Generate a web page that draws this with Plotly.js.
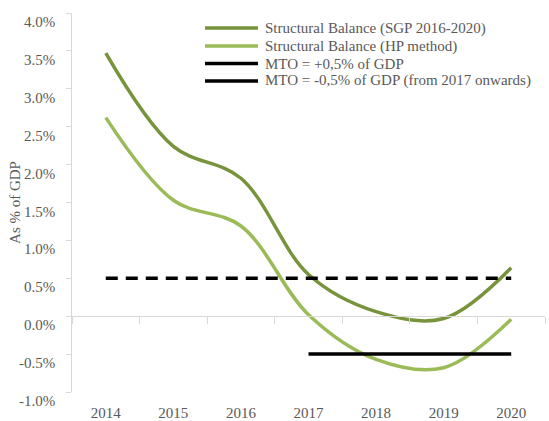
<!DOCTYPE html>
<html>
<head>
<meta charset="utf-8">
<script src="https://cdn.plot.ly/plotly-3.0.1.min.js"></script>
<style>html,body{margin:0;padding:0;background:#fff;}#chart{width:549px;height:421px;}</style>
</head>
<body>
<div id="chart"></div>
<script>
// ---- data ----
var years = [2014, 2015, 2016, 2017, 2018, 2019, 2020];
var sbSGP = [3.47, 2.24, 1.82, 0.55, 0.06, -0.03, 0.64];
var sbHP = [2.62, 1.53, 1.19, 0.02, -0.57, -0.68, -0.04];
var mtoHighYears = [2014, 2015, 2016, 2017, 2018, 2019, 2020];
var mtoHigh = [0.5, 0.5, 0.5, 0.5, 0.5, 0.5, 0.5];
var mtoLowYears = [2017, 2018, 2019, 2020];
var mtoLow = [-0.5, -0.5, -0.5, -0.5];
var seriesNames = ["Structural Balance (SGP 2016-2020)", "Structural Balance (HP method)", "MTO = +0,5% of GDP", "MTO = -0,5% of GDP (from 2017 onwards)"];
var yTickVals = [-1.0, -0.5, 0.0, 0.5, 1.0, 1.5, 2.0, 2.5, 3.0, 3.5, 4.0];
var yTickText = ["-1.0%", "-0.5%", "0.0%", "0.5%", "1.0%", "1.5%", "2.0%", "2.5%", "3.0%", "3.5%", "4.0%"];
var yTitle = "As % of GDP";

// ---- style ----
var darkGreen = "#77933C", lightGreen = "#9BBB59", black = "#000000";
var gray = "#595959", axisGray = "#d9d9d9";
var FONT = "Liberation Serif, Times New Roman, serif";
var colors = [darkGreen, lightGreen, black, black];

var W = 549, H = 421, L = 72, R = 4, T = 13, B = 29;
var pw = W - L - R, ph = H - T - B;
function px2x(px) { return (px - L) / pw; }
function px2y(py) { return (H - B - py) / ph; }

var traces = [
  {x: years, y: sbSGP, type: "scatter", mode: "lines", line: {color: darkGreen, width: 3.5, shape: "spline", smoothing: 1}, showlegend: false},
  {x: years, y: sbHP, type: "scatter", mode: "lines", line: {color: lightGreen, width: 3.5, shape: "spline", smoothing: 1}, showlegend: false},
  {x: mtoHighYears, y: mtoHigh, type: "scatter", mode: "lines", line: {color: black, width: 3.5, dash: "12px,8px"}, showlegend: false},
  {x: mtoLowYears, y: mtoLow, type: "scatter", mode: "lines", line: {color: black, width: 3.5}, showlegend: false},
  // invisible trace to activate the tick-mark axis at y = 0
  {x: [years[0]], y: [0], xaxis: "x2", type: "scatter", mode: "markers", marker: {opacity: 0}, showlegend: false, hoverinfo: "skip"}
];

var annotations = [];
var shapes = [];
// y tick labels (shifted slightly below ticks, as in the original)
for (var i = 0; i < yTickVals.length; i++) {
  annotations.push({x: 0, xref: "paper", y: yTickVals[i], yref: "y", text: yTickText[i], showarrow: false,
    xanchor: "right", yanchor: "middle", xshift: -15, yshift: -9, font: {family: FONT, size: 15, color: gray}});
}
// manual legend
var legRows = [28, 46, 63.5, 81];
for (var j = 0; j < seriesNames.length; j++) {
  shapes.push({type: "line", xref: "paper", yref: "paper", x0: px2x(205), x1: px2x(258), y0: px2y(legRows[j]), y1: px2y(legRows[j]),
    line: {color: colors[j], width: 3.5}});
  annotations.push({x: px2x(263), xref: "paper", y: px2y(legRows[j]), yref: "paper", text: seriesNames[j], showarrow: false,
    xanchor: "left", yanchor: "middle", font: {family: FONT, size: 15, color: gray}});
}

var layout = {
  width: W, height: H,
  margin: {l: L, r: R, t: T, b: B, pad: 0},
  paper_bgcolor: "#fff", plot_bgcolor: "#fff",
  showlegend: false,
  font: {family: FONT, size: 15, color: gray},
  xaxis: {range: [2013.5, 2020.5], tickvals: years, ticktext: years.map(String), ticks: "", showline: false,
    showgrid: false, zeroline: false, tickfont: {family: FONT, size: 15, color: gray}, ticklabelstandoff: 10, fixedrange: true},
  xaxis2: {overlaying: "x", anchor: "free", position: 0.2, range: [2013.5, 2020.5],
    tickvals: [2013.5, 2014.5, 2015.5, 2016.5, 2017.5, 2018.5, 2019.5, 2020.5],
    ticks: "outside", ticklen: 7, tickwidth: 1, tickcolor: axisGray, showline: true, linecolor: axisGray, linewidth: 1,
    showticklabels: false, showgrid: false, zeroline: false},
  yaxis: {range: [-1, 4], tickvals: yTickVals, showticklabels: false, ticks: "outside", ticklen: 5, tickcolor: axisGray,
    showline: true, linecolor: axisGray, linewidth: 1, showgrid: false, zeroline: false,
    title: {text: yTitle, font: {family: FONT, size: 15, color: gray}, standoff: 41}},
  annotations: annotations,
  shapes: shapes
};

Plotly.newPlot("chart", traces, layout, {displayModeBar: false, staticPlot: true});
</script>
</body>
</html>
